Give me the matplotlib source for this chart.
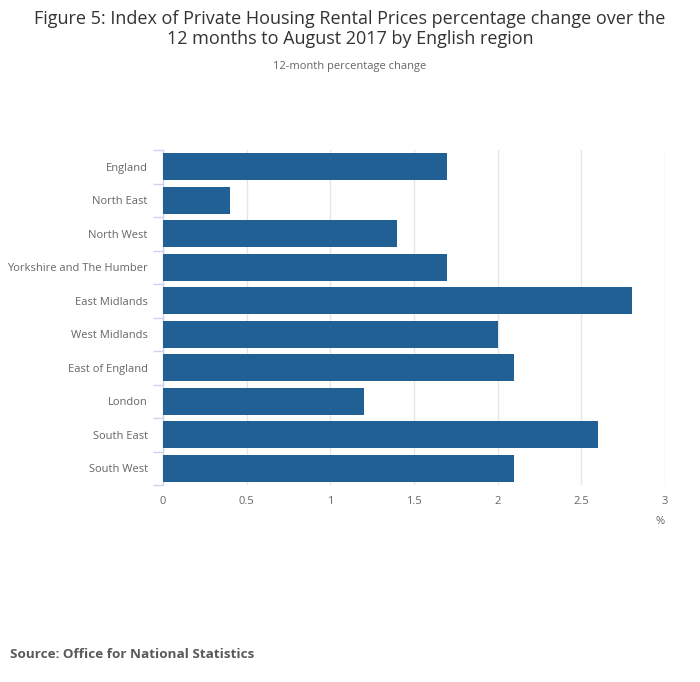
import matplotlib
matplotlib.use("Agg")
import matplotlib.pyplot as plt
from matplotlib.ticker import FixedLocator

regions = ["England", "North East", "North West", "Yorkshire and The Humber",
           "East Midlands", "West Midlands", "East of England", "London",
           "South East", "South West"]
values = [1.7, 0.4, 1.4, 1.7, 2.8, 2.0, 2.1, 1.2, 2.6, 2.1]
xticks = [0, 0.5, 1, 1.5, 2, 2.5, 3]
xticklabels = ["0", "0.5", "1", "1.5", "2", "2.5", "3"]

plt.rcParams['font.family'] = ['Open Sans', 'DejaVu Sans']

fig = plt.figure(figsize=(7, 6.82), dpi=100)
ax = fig.add_axes([163/700, 1-485/682, (665-163)/700, 335/682])

y = list(range(len(regions)))
ax.barh(y, values, height=0.8, color="#206095", zorder=3)
ax.set_ylim(len(regions)-0.5, -0.5)
ax.set_xlim(0, 3)

ax.set_xticks(xticks)
ax.set_xticklabels(xticklabels, fontsize=8, color="#666666")
ax.tick_params(axis='x', length=0, pad=8)
ax.grid(axis='x', color="#e6e6e6", linewidth=1, zorder=0)

ax.set_yticks(y)
ax.set_yticklabels(regions, fontsize=8, color="#666666")
ax.tick_params(axis='y', which='major', length=0, pad=11)
ax.yaxis.set_minor_locator(FixedLocator([i - 0.5 for i in range(len(regions)+1)]))
ax.tick_params(axis='y', which='minor', length=7, color="#ccd6eb", width=1)

for s in ["top", "right", "bottom"]:
    ax.spines[s].set_visible(False)
ax.spines["left"].set_color("#ccd6eb")
ax.spines["left"].set_linewidth(1)

fig.text(0.5, 1-29/682, "Figure 5: Index of Private Housing Rental Prices percentage change over the\n12 months to August 2017 by English region",
         ha="center", va="center", fontsize=13, color="#333333", linespacing=1.1)
fig.text(0.5, 1-66/682, "12-month percentage change", ha="center", va="center",
         fontsize=8, color="#666666")
fig.text(665/700, 1-522/682, "%", ha="right", va="center", fontsize=8, color="#666666")
fig.text(10/700, 1-655/682, "Source: Office for National Statistics", ha="left", va="center",
         fontsize=9.7, fontweight="bold", color="#595959")

fig.savefig("out.png", dpi=100)
